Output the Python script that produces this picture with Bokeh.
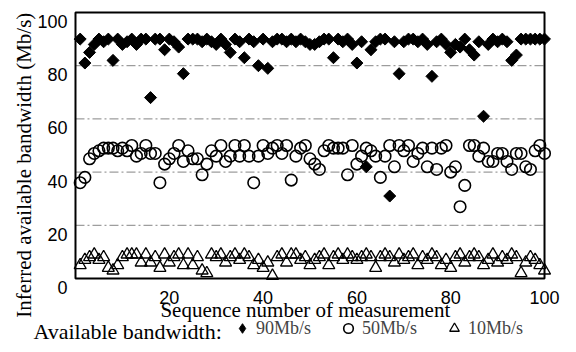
import numpy as np
from bokeh.plotting import figure
from bokeh.models import Legend, LegendItem
from bokeh.core.properties import value
from bokeh.embed import file_html
from bokeh.resources import INLINE

# ---- data ----
seq = list(range(1, 101))

bw90 = [90, 81, 85, 88, 90, 89, 90, 82, 90, 88,
        89, 90, 88, 90, 90, 68, 90, 90, 86, 90,
        89, 87, 77, 90, 90, 90, 89, 90, 89, 88,
        90, 88, 85, 90, 89, 83, 90, 89, 80, 90,
        79, 89, 90, 90, 89, 90, 89, 90, 89, 88,
        88, 89, 90, 90, 83, 90, 89, 90, 88, 81,
        89, 42, 86, 89, 90, 90, 31, 89, 77, 89,
        90, 90, 89, 90, 88, 76, 89, 90, 88, 85,
        88, 87, 90, 86, 84, 89, 61, 88, 90, 89,
        90, 89, 82, 84, 90, 90, 90, 90, 90, 90]

bw50 = [36, 38, 45, 47, 48, 49, 49, 49, 48, 49,
        48, 50, 46, 47, 50, 47, 47, 36, 43, 45,
        47, 50, 44, 48, 45, 45, 39, 43, 48, 46,
        50, 44, 46, 50, 46, 50, 46, 36, 46, 50,
        47, 49, 50, 47, 50, 37, 46, 49, 50, 45,
        43, 41, 48, 50, 49, 49, 49, 39, 50, 43,
        46, 49, 48, 46, 38, 46, 50, 42, 50, 48,
        50, 44, 47, 49, 42, 49, 41, 49, 50, 40,
        42, 27, 35, 50, 50, 46, 49, 44, 44, 47,
        47, 44, 41, 47, 47, 42, 41, 48, 50, 47]

bw10 = [5, 7, 8, 9, 7, 8, 4, 3, 5, 8,
        9, 9, 9, 6, 9, 6, 8, 4, 9, 6,
        8, 9, 5, 9, 5, 8, 3, 2, 9, 8,
        9, 6, 8, 9, 7, 9, 8, 5, 7, 4,
        6, 1, 8, 9, 6, 9, 9, 7, 8, 5,
        7, 8, 9, 5, 8, 9, 7, 9, 8, 7,
        8, 9, 8, 4, 8, 9, 8, 6, 9, 7,
        8, 9, 5, 8, 7, 9, 8, 5, 7, 4,
        8, 9, 6, 8, 9, 8, 5, 7, 9, 6,
        8, 7, 9, 8, 2, 6, 8, 7, 5, 3]

x_ticks = [20, 40, 60, 80, 100]
x_tick_labels = ["20", "40", "60", "80", "100"]
y_ticks = [0, 20, 40, 60, 80, 100]
y_tick_labels = ["0", "20", "40", "60", "80", "100"]
grid_levels = [20, 40, 60, 80]
series_names = ["90Mb/s", "50Mb/s", "10Mb/s"]
x_title = "Sequence number of measurement"
y_title = "Inferred  available bandwidth (Mb/s)"
legend_title = "Available bandwidth:"

SERIF = value("Liberation Serif")
SANS = value("Liberation Sans")

# The plotting frame covers the whole canvas; the data box (0..100 x 0..100)
# is drawn inside it so that all texts and the legend stay visible.
p = figure(width=576, height=352,
           x_range=(-15.99, 106.82), y_range=(-27.82, 104.51),
           output_backend="svg", toolbar_location=None,
           min_border=0, min_border_left=0, min_border_right=0,
           min_border_top=0, min_border_bottom=0)
p.xaxis.visible = False
p.yaxis.visible = False
p.xgrid.visible = False
p.ygrid.visible = False
p.outline_line_color = None
p.background_fill_color = "white"
p.border_fill_color = "white"

# dash-dot horizontal grid lines inside the box
p.segment(x0=0, x1=100, y0=grid_levels, y1=grid_levels,
          line_color="#707070", line_width=1, line_dash="9 3 2 3", line_alpha=0.85)

# data
r10 = p.scatter(seq, bw10, marker="triangle", size=12, fill_color=None,
                line_color="black", line_width=1.3)
r50 = p.scatter(seq, bw50, marker="circle", size=11.5, fill_color=None,
                line_color="black", line_width=1.6)
r90 = p.scatter(seq, bw90, marker="square", angle=np.pi / 4, size=8.5,
                fill_color="black", line_color="black")
# same series, diamond marker, used only for the legend swatch
r90_key = p.scatter(seq, bw90, marker="diamond", size=12,
                    fill_color="black", line_color="black", visible=False)

# plot box
p.quad(left=0, right=100, bottom=0, top=100, fill_color=None,
       line_color="black", line_width=2)

# tick labels
p.text(x=x_ticks, y=0, text=x_tick_labels, y_offset=13,
       text_align="center", text_baseline="top",
       text_font=SANS, text_font_size="18px", text_color="black")
p.text(x=0, y=y_ticks, text=y_tick_labels, x_offset=-8, y_offset=9,
       text_align="right", text_baseline="middle",
       text_font=SANS, text_font_size="18px", text_color="black")

# axis titles
p.text(x=49, y=0, text=[x_title], y_offset=32,
       text_align="center", text_baseline="middle",
       text_font=SERIF, text_font_size="21px", text_color="black")
p.text(x=-10.9, y=43.6, text=[y_title], angle=np.pi / 2,
       text_align="center", text_baseline="middle",
       text_font=SERIF, text_font_size="21px", text_color="black")

# legend
p.text(x=-8.96, y=0, text=[legend_title], y_offset=53,
       text_align="left", text_baseline="middle",
       text_font=SERIF, text_font_size="22px", text_color="black")
legend = Legend(items=[LegendItem(label=series_names[0], renderers=[r90_key]),
                       LegendItem(label=series_names[1], renderers=[r50]),
                       LegendItem(label=series_names[2], renderers=[r10])],
                orientation="horizontal", location=(230, 12),
                padding=0, margin=0, spacing=25,
                glyph_width=24, glyph_height=24, label_standoff=2,
                label_height=24,
                border_line_color=None, background_fill_alpha=0,
                label_text_font="Liberation Serif", label_text_font_size="18px",
                label_text_baseline="bottom")
p.add_layout(legend)

open("out.html", "w").write(file_html(p, INLINE))
